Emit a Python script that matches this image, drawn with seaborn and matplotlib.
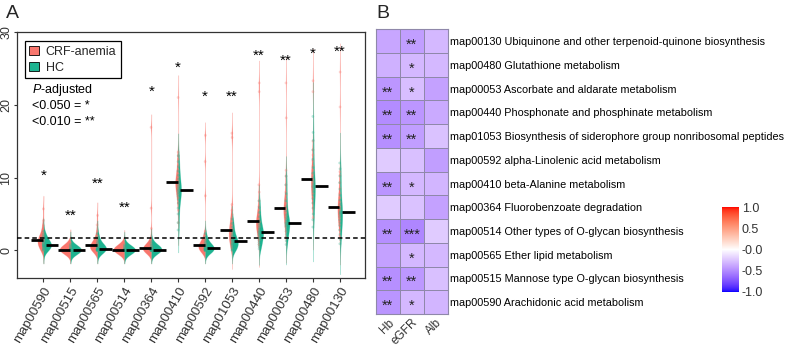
import numpy as np
import pandas as pd
import matplotlib
matplotlib.use("Agg")
import matplotlib.pyplot as plt
import seaborn as sns
from matplotlib.patches import Patch
from matplotlib.colors import ListedColormap

# ---------------- Panel A data ----------------
pathways = ["map00590", "map00515", "map00565", "map00514", "map00364", "map00410",
            "map00592", "map01053", "map00440", "map00053", "map00480", "map00130"]
groups = ["CRF-anemia", "HC"]

crf_map00590 = [0.0, 0.1, 0.3, 0.5, 0.7, 0.8, 1.0, 1.1, 1.2, 1.3, 1.4, 1.5, 1.7, 1.8, 2.0, 2.2, 2.5, 2.9, 3.4, 4.1, 5.7]
hc_map00590 = [0.0, 0.1, 0.2, 0.3, 0.4, 0.5, 0.6, 0.6, 0.7, 0.7, 0.8, 0.9, 1.0, 1.1, 1.2, 1.3, 1.5, 1.7, 1.9, 2.2, 2.6]
crf_map00515 = [0, 0, 0, 0, 0, 0, 0, 0, 0.02, 0.03, 0.05, 0.08, 0.1, 0.15, 0.2, 0.3, 0.4, 0.5, 0.7, 0.9, 1.1]
hc_map00515 = [0, 0, 0, 0, 0, 0, 0, 0, 0, 0, 0, 0, 0.02, 0.05, 0.1, 0.15, 0.2, 0.3, 0.45, 0.6, 0.8]
crf_map00565 = [0, 0, 0.05, 0.1, 0.2, 0.3, 0.4, 0.5, 0.55, 0.6, 0.7, 0.8, 0.9, 1.0, 1.2, 1.4, 1.7, 2.0, 2.6, 3.5, 4.8]
hc_map00565 = [0, 0, 0, 0, 0.05, 0.1, 0.1, 0.15, 0.2, 0.2, 0.25, 0.3, 0.4, 0.5, 0.6, 0.7, 0.9, 1.1, 1.4, 1.8, 2.3]
crf_map00514 = [0, 0, 0, 0, 0, 0, 0, 0, 0.01, 0.03, 0.05, 0.07, 0.1, 0.12, 0.18, 0.25, 0.35, 0.5, 0.65, 0.85, 1.0]
hc_map00514 = [0, 0, 0, 0, 0, 0, 0, 0, 0, 0, 0, 0, 0.01, 0.03, 0.06, 0.1, 0.15, 0.25, 0.4, 0.55, 0.75]
crf_map00364 = [0, 0, 0, 0, 0.05, 0.1, 0.1, 0.15, 0.2, 0.25, 0.3, 0.35, 0.45, 0.55, 0.7, 0.9, 1.2, 1.6, 3.0, 5.8, 16.9]
hc_map00364 = [0, 0, 0, 0, 0, 0, 0.02, 0.05, 0.07, 0.08, 0.1, 0.12, 0.15, 0.2, 0.25, 0.3, 0.4, 0.5, 0.7, 0.9, 1.2]
crf_map00410 = [3.8, 5.5, 6.5, 7.2, 7.8, 8.2, 8.5, 8.8, 9.0, 9.2, 9.4, 9.6, 9.8, 10.1, 10.5, 11.0, 11.6, 12.5, 13.0, 13.5, 21.0]
hc_map00410 = [2.8, 3.8, 5.0, 5.8, 6.5, 7.0, 7.4, 7.7, 7.9, 8.1, 8.3, 8.5, 8.8, 9.1, 9.4, 9.8, 10.3, 10.9, 11.5, 12.2, 13.0]
crf_map00592 = [0, 0, 0.05, 0.1, 0.2, 0.3, 0.4, 0.5, 0.6, 0.7, 0.8, 0.9, 1.0, 1.2, 1.4, 1.7, 2.1, 2.6, 7.5, 12.2, 15.8]
hc_map00592 = [0, 0, 0, 0, 0.05, 0.1, 0.15, 0.2, 0.22, 0.25, 0.3, 0.35, 0.4, 0.5, 0.6, 0.7, 0.9, 1.1, 1.4, 1.8, 2.3]
crf_map01053 = [0.3, 0.6, 0.9, 1.2, 1.5, 1.8, 2.0, 2.2, 2.4, 2.6, 2.8, 3.0, 3.3, 3.6, 4.0, 4.4, 4.9, 5.5, 6.3, 15.5, 16.1]
hc_map01053 = [0, 0.1, 0.2, 0.4, 0.5, 0.7, 0.8, 0.9, 1.0, 1.2, 1.3, 1.4, 1.5, 1.7, 1.9, 2.1, 2.4, 2.8, 3.2, 3.7, 4.3]
crf_map00440 = [0.8, 1.4, 2.0, 2.5, 2.9, 3.2, 3.4, 3.6, 3.8, 3.9, 4.0, 4.3, 4.6, 5.0, 5.5, 6.0, 6.8, 8.0, 9.0, 21.8, 23.0]
hc_map00440 = [0.2, 0.5, 0.8, 1.1, 1.4, 1.7, 1.9, 2.1, 2.2, 2.4, 2.5, 2.7, 2.9, 3.1, 3.4, 3.7, 4.1, 4.6, 5.2, 5.9, 6.8]
crf_map00053 = [1.8, 2.6, 3.3, 3.9, 4.4, 4.8, 5.1, 5.3, 5.5, 5.7, 5.8, 6.1, 6.5, 7.0, 7.6, 8.0, 9.0, 10.2, 11.0, 18.2, 23.0]
hc_map00053 = [0.8, 1.3, 1.8, 2.2, 2.6, 2.9, 3.2, 3.4, 3.5, 3.7, 3.8, 4.0, 4.2, 4.5, 4.9, 5.4, 6.0, 6.8, 7.8, 9.0, 10.2]
crf_map00480 = [4.5, 5.8, 6.5, 7.2, 7.8, 8.3, 8.7, 9.1, 9.4, 9.6, 9.8, 10.1, 10.5, 11.0, 11.6, 12.3, 13.1, 13.8, 15.0, 21.8, 23.3]
hc_map00480 = [3.2, 4.2, 5.0, 5.8, 6.5, 7.1, 7.6, 8.0, 8.3, 8.6, 8.8, 9.1, 9.5, 10.0, 10.6, 11.4, 12.5, 13.8, 15.1, 16.2, 18.4]
crf_map00130 = [2.0, 2.8, 3.5, 4.0, 4.5, 4.9, 5.2, 5.5, 5.7, 5.9, 6.0, 6.3, 6.7, 7.2, 7.8, 8.5, 9.3, 10.3, 10.8, 19.7, 24.5]
hc_map00130 = [0.9, 1.5, 2.2, 2.8, 3.4, 3.8, 4.2, 4.6, 4.9, 5.1, 5.2, 5.4, 5.8, 6.3, 6.9, 7.6, 8.4, 9.3, 10.2, 11.2, 12.0]

sig_labels = ["*", "**", "**", "**", "*", "*", "*", "**", "**", "**", "*", "**"]
sig_y = [10.8, 5.4, 9.7, 6.5, 22.4, 25.7, 21.7, 21.7, 27.3, 26.6, 27.6, 27.9]
threshold = 1.75

# ---------------- Panel B data ----------------
heat_rows = ["map00130 Ubiquinone and other terpenoid-quinone biosynthesis",
             "map00480 Glutathione metabolism",
             "map00053 Ascorbate and aldarate metabolism",
             "map00440 Phosphonate and phosphinate metabolism",
             "map01053 Biosynthesis of siderophore group nonribosomal peptides",
             "map00592 alpha-Linolenic acid metabolism",
             "map00410 beta-Alanine metabolism",
             "map00364 Fluorobenzoate degradation",
             "map00514 Other types of O-glycan biosynthesis",
             "map00565 Ether lipid metabolism",
             "map00515 Mannose type O-glycan biosynthesis",
             "map00590 Arachidonic acid metabolism"]
heat_cols = ["Hb", "eGFR", "Alb"]
r_hb = [-0.38, -0.33, -0.45, -0.50, -0.48, -0.22, -0.46, -0.22, -0.48, -0.40, -0.48, -0.46]
r_egfr = [-0.42, -0.30, -0.28, -0.45, -0.42, -0.27, -0.30, -0.26, -0.52, -0.30, -0.44, -0.30]
r_alb = [-0.30, -0.30, -0.40, -0.36, -0.26, -0.42, -0.32, -0.40, -0.22, -0.30, -0.27, -0.32]
s_hb = ["", "", "**", "**", "**", "", "**", "", "**", "", "**", "**"]
s_egfr = ["**", "*", "*", "**", "**", "", "*", "", "***", "*", "**", "*"]
s_alb = ["", "", "", "", "", "", "", "", "", "", "", ""]
cbar_ticks = [-1.0, -0.5, 0.0, 0.5, 1.0]
cbar_labels = ["-1.0", "-0.5", "-0.0", "0.5", "1.0"]

# ---------------- style ----------------
sns.set_theme(style="white")
plt.rcParams["font.family"] = ["Liberation Sans", "DejaVu Sans"]
plt.rcParams["mathtext.fontset"] = "custom"
plt.rcParams["mathtext.it"] = "Liberation Sans:italic"
plt.rcParams["mathtext.rm"] = "Liberation Sans"

red = "#F8766D"
teal = "#1DB390"
pal = {"CRF-anemia": red, "HC": teal}
txtc = "#333333"

# build long table
crf_lists = [crf_map00590, crf_map00515, crf_map00565, crf_map00514, crf_map00364, crf_map00410,
             crf_map00592, crf_map01053, crf_map00440, crf_map00053, crf_map00480, crf_map00130]
hc_lists = [hc_map00590, hc_map00515, hc_map00565, hc_map00514, hc_map00364, hc_map00410,
            hc_map00592, hc_map01053, hc_map00440, hc_map00053, hc_map00480, hc_map00130]
rows = []
for p, c, h in zip(pathways, crf_lists, hc_lists):
    rows += [(p, "CRF-anemia", v) for v in c]
    rows += [(p, "HC", v) for v in h]
df = pd.DataFrame(rows, columns=["pathway", "group", "value"])


def nrd0(kde):
    x = np.asarray(kde.dataset).ravel()
    n = x.size
    sd = np.std(x, ddof=1)
    q75, q25 = np.percentile(x, [75, 25])
    lo = min(sd, (q75 - q25) / 1.34)
    if lo <= 0:
        lo = sd
    bw = max(0.9 * lo * n ** -0.2, 0.6)
    return bw / sd


fig = plt.figure(figsize=(7.87, 3.46), dpi=100)
axA = fig.add_axes([17 / 787, 68 / 346, 348 / 787, 246 / 346])
axH = fig.add_axes([376 / 787, 32 / 346, 71.5 / 787, 284.7 / 346])
cax = fig.add_axes([722 / 787, 54 / 346, 17 / 787, 85 / 346])

sns.violinplot(data=df, x="pathway", y="value", hue="group", order=pathways, hue_order=groups,
               split=True, inner=None, palette=pal, saturation=1, cut=3, bw_method=nrd0,
               density_norm="area", width=0.8, gap=0, linewidth=0.5, legend=False, ax=axA)
for coll in axA.collections:
    fc = coll.get_facecolor()
    if len(fc):
        ec = fc.copy()
        ec[:, 3] = 0.35
        coll.set_edgecolor(ec)
        coll.set_linewidth(0.5)

sns.stripplot(data=df, x="pathway", y="value", hue="group", order=pathways, hue_order=groups,
              palette=pal, dodge=False, jitter=0.01, size=2, alpha=0.3, linewidth=0,
              legend=False, ax=axA, zorder=3)

for i, (c, h) in enumerate(zip(crf_lists, hc_lists)):
    axA.hlines(np.median(c), i - 0.45, i - 0.02, color="black", lw=2, zorder=4)
    axA.hlines(np.median(h), i + 0.08, i + 0.55, color="black", lw=2, zorder=4)

for i, (t, y) in enumerate(zip(sig_labels, sig_y)):
    axA.annotate(t, (i, y), xytext=(0, -6), textcoords="offset points", ha="center",
                 va="baseline", fontsize=11, color="black")

axA.axhline(threshold, color="black", ls=(0, (3, 2)), lw=1.1, zorder=5)
axA.set_xlim(-0.98, 11.93)
axA.set_ylim(-3.8, 30)
axA.set_yticks([0, 10, 20, 30])
axA.set_yticklabels(["0", "10", "20", "30"], rotation=90, va="center", fontsize=9, color=txtc)
axA.set_xticks(range(len(pathways)))
axA.set_xticklabels(pathways, rotation=60, ha="right", va="top", rotation_mode="anchor",
                    fontsize=9.5, color=txtc)
axA.tick_params(axis="x", length=3, width=0.8, color=txtc, pad=2, bottom=True)
axA.tick_params(axis="y", length=2.5, width=0.8, color=txtc, pad=1, left=True)
axA.set_xlabel("")
axA.set_ylabel("")
for s in axA.spines.values():
    s.set_visible(True)
    s.set_color(txtc)
    s.set_linewidth(0.9)

handles = [Patch(facecolor=red, edgecolor="black", lw=0.6), Patch(facecolor=teal, edgecolor="black", lw=0.6)]
leg = axA.legend(handles, groups, loc="upper left", bbox_to_anchor=(0.023, 0.962), frameon=True,
                 fancybox=False, edgecolor="black", framealpha=1, handlelength=0.8, handleheight=0.8,
                 handletextpad=0.5, borderpad=0.35, labelspacing=0.3, fontsize=9, borderaxespad=0)
leg.get_frame().set_linewidth(0.9)

axA.text(0.043, 0.764, "$P$-adjusted", transform=axA.transAxes, fontsize=9, va="center", color="black")
axA.text(0.043, 0.699, "<0.050 = *", transform=axA.transAxes, fontsize=9, va="center", color="black")
axA.text(0.043, 0.634, "<0.010 = **", transform=axA.transAxes, fontsize=9, va="center", color="black")

fig.text(6 / 787, 1 - 13 / 346, "A", fontsize=14, va="center", ha="left")
fig.text(376 / 787, 1 - 13 / 346, "B", fontsize=14, va="center", ha="left")


# ---------------- colormap: blue-white-red interpolated in CIELAB ----------------
M = np.array([[0.4124564, 0.3575761, 0.1804375],
              [0.2126729, 0.7151522, 0.0721750],
              [0.0193339, 0.1191920, 0.9503041]])
Minv = np.linalg.inv(M)
WP = np.array([0.95047, 1.0, 1.08883])


def to_lab(rgb):
    c = np.asarray(rgb, float)
    lin = np.where(c <= 0.04045, c / 12.92, ((c + 0.055) / 1.055) ** 2.4)
    t = (M @ lin) / WP
    f = np.where(t > (6 / 29) ** 3, np.cbrt(t), t / (3 * (6 / 29) ** 2) + 4 / 29)
    return np.array([116 * f[1] - 16, 500 * (f[0] - f[1]), 200 * (f[1] - f[2])])


def to_rgb(lab):
    L, a, b = lab
    fy = (L + 16) / 116
    f = np.array([fy + a / 500, fy, fy - b / 200])
    t = np.where(f > 6 / 29, f ** 3, 3 * (6 / 29) ** 2 * (f - 4 / 29))
    lin = np.clip(Minv @ (t * WP), 0, 1)
    c = np.where(lin <= 0.0031308, 12.92 * lin, 1.055 * lin ** (1 / 2.4) - 0.055)
    return np.clip(c, 0, 1)


lab_b, lab_w, lab_r = to_lab([0, 0, 1]), to_lab([1, 1, 1]), to_lab([1, 0, 0])
cols = []
for v in np.linspace(-1, 1, 256):
    if v < 0:
        lab = lab_w + (-v) * (lab_b - lab_w)
    else:
        lab = lab_w + v * (lab_r - lab_w)
    cols.append(to_rgb(lab))
cmap = ListedColormap(cols)

heat_df = pd.DataFrame({"Hb": r_hb, "eGFR": r_egfr, "Alb": r_alb}, index=heat_rows)[heat_cols]
sns.heatmap(heat_df, cmap=cmap, vmin=-1, vmax=1, cbar=True, cbar_ax=cax, linewidths=0.6,
            linecolor="#8f88aa", xticklabels=heat_cols, yticklabels=heat_rows, ax=axH)
stars = [s_hb, s_egfr, s_alb]
for j, col in enumerate(stars):
    for i, s in enumerate(col):
        if s:
            axH.annotate(s, (j + 0.5, i + 0.5), xytext=(0, -5.6), textcoords="offset points",
                         ha="center", va="baseline", fontsize=10.5, color="#222222")
axH.yaxis.tick_right()
axH.set_yticklabels(heat_rows, rotation=0, fontsize=7.85, color="black", ha="left")
axH.set_xticklabels(heat_cols, rotation=45, ha="right", va="top", rotation_mode="anchor",
                    fontsize=8.5, color=txtc)
axH.tick_params(axis="y", length=0, pad=2)
axH.tick_params(axis="x", length=0, pad=2)
axH.set_xlabel("")
axH.set_ylabel("")
for s in axH.spines.values():
    s.set_visible(True)
    s.set_color("#8f88aa")
    s.set_linewidth(0.8)

cbar = axH.collections[0].colorbar
cbar.outline.set_visible(False)
cbar.set_ticks(cbar_ticks)
cbar.set_ticklabels(cbar_labels)
cax.tick_params(length=3, color="white", direction="in", width=0.8, labelsize=9, pad=2, labelcolor=txtc)

fig.savefig("out.png", dpi=100)
